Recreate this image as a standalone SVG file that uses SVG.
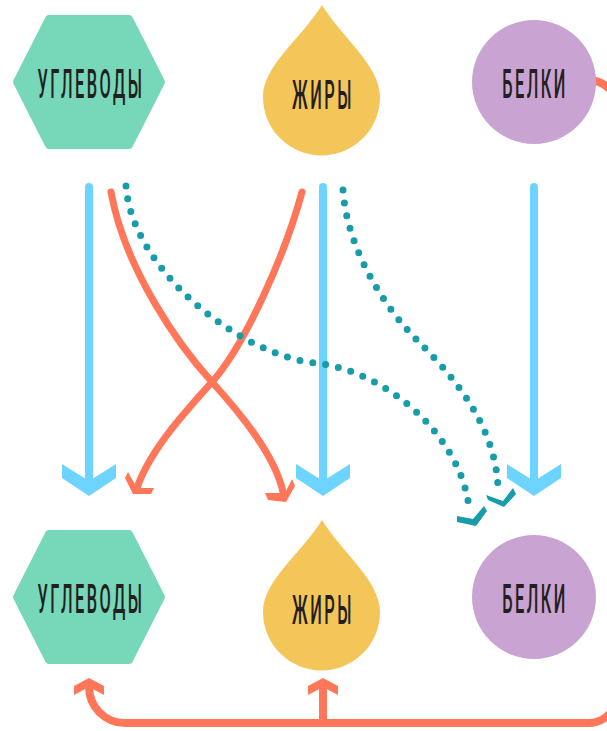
<svg xmlns="http://www.w3.org/2000/svg" width="607" height="731" viewBox="0 0 607 731">
  <style>
    .hex { fill: #76D7B9; stroke: #76D7B9; stroke-width: 8; stroke-linejoin: round; }
    .drop { fill: #F4C659; }
    .ball { fill: #C9A4D3; }
    .label { font-family: Roboto, "Liberation Sans", sans-serif; font-weight: 500; font-size: 40px; letter-spacing: 6px; fill: #231F20; text-anchor: middle; }
    .blue { stroke: #6CD4FF; stroke-width: 8; fill: none; stroke-linecap: round; }
    .blue-head { fill: #6CD4FF; }
    .orange { stroke: #FF7758; stroke-width: 7; fill: none; stroke-linecap: round; }
    .orange-wide { stroke: #FF7758; stroke-width: 8; fill: none; }
    .orange-head { fill: #FF7758; }
    .teal { stroke: #189CA9; stroke-width: 7; fill: none; stroke-linecap: round; stroke-dasharray: 0 13; }
    .teal-head { fill: #189CA9; }
  </style>
  <defs>
    <polygon id="hexShape" class="hex" points="17,82 49,19 129,19 161,82 129,145 49,145"/>
    <path id="dropShape" class="drop" d="M322,5 C302,38 263,65 263,97 A58.5,58.5 0 0 0 380,97 C380,65 342,38 322,5 Z"/>
    <polygon id="blueHead" class="blue-head" points="-27,-17 0,0 27,-17 27,-3 0,15 -27,-3"/>
  </defs>

  <rect width="607" height="731" fill="#FFFFFF"/>

  <g id="connectors">
    <!-- straight blue arrows -->
    <line class="blue" x1="89" y1="187" x2="89" y2="480"/>
    <line class="blue" x1="323" y1="187" x2="323" y2="480"/>
    <line class="blue" x1="534" y1="187" x2="534" y2="480"/>
    <use href="#blueHead" transform="translate(89,481)"/>
    <use href="#blueHead" transform="translate(323,481)"/>
    <use href="#blueHead" transform="translate(534,481)"/>

    <!-- crossing orange curves -->
    <path class="orange" d="M111,192 C125,270 180,347 212,382 C240,413 275,455 283,492"/>
    <polygon class="orange-head" points="286,502 295,486 292,479 285,493 265,493 268,500"/>
    <path class="orange" d="M302,192 C285,255 245,345 212,382 C185,412 150,450 137,488"/>
    <polygon class="orange-head" points="133,494 151,494 154,488 137,488 128,472 125,478"/>

    <!-- return loop from БЕЛКИ along the bottom -->
    <path class="orange-wide" d="M588,80 A30,30 0 0 1 618,110 V693 A30,30 0 0 1 588,723 H125 A36,36 0 0 1 89,687 V684"/>
    <line class="orange-wide" x1="323" y1="723" x2="323" y2="684"/>
    <polygon class="orange-head" points="74,686 89,678 104,686 104,695 89,687 74,695"/>
    <polygon class="orange-head" points="308,686 323,678 338,686 338,695 323,687 308,695"/>

    <!-- dotted teal curves -->
    <path class="teal" d="M126,186 C132,270 240,355 315,363 C390,371 462,440 469,508"/>
    <polygon class="teal-head" points="476,526 487,511 484,506 473,519 457,516 457,522"/>
    <path class="teal" d="M343,190 C347,250 386,309 416,339 C446,369 495,420 498,487"/>
    <polygon class="teal-head" points="504,507 516,494 513,488 503,501 486,495 488,500"/>
  </g>

  <g id="carbs-top">
    <use href="#hexShape"/>
    <text class="label" transform="translate(91,98) scale(0.41,1)">УГЛЕВОДЫ</text>
  </g>
  <g id="fats-top">
    <use href="#dropShape"/>
    <text class="label" transform="translate(323,108.5) scale(0.41,1)">ЖИРЫ</text>
  </g>
  <g id="proteins-top">
    <circle class="ball" cx="534" cy="82" r="62"/>
    <text class="label" transform="translate(535,98) scale(0.41,1)">БЕЛКИ</text>
  </g>

  <g id="carbs-bottom" transform="translate(0,515)">
    <use href="#hexShape"/>
    <text class="label" transform="translate(91,98) scale(0.41,1)">УГЛЕВОДЫ</text>
  </g>
  <g id="fats-bottom" transform="translate(0,515)">
    <use href="#dropShape"/>
    <text class="label" transform="translate(323,108.5) scale(0.41,1)">ЖИРЫ</text>
  </g>
  <g id="proteins-bottom" transform="translate(0,515)">
    <circle class="ball" cx="534" cy="82" r="62"/>
    <text class="label" transform="translate(535,98) scale(0.41,1)">БЕЛКИ</text>
  </g>
</svg>
